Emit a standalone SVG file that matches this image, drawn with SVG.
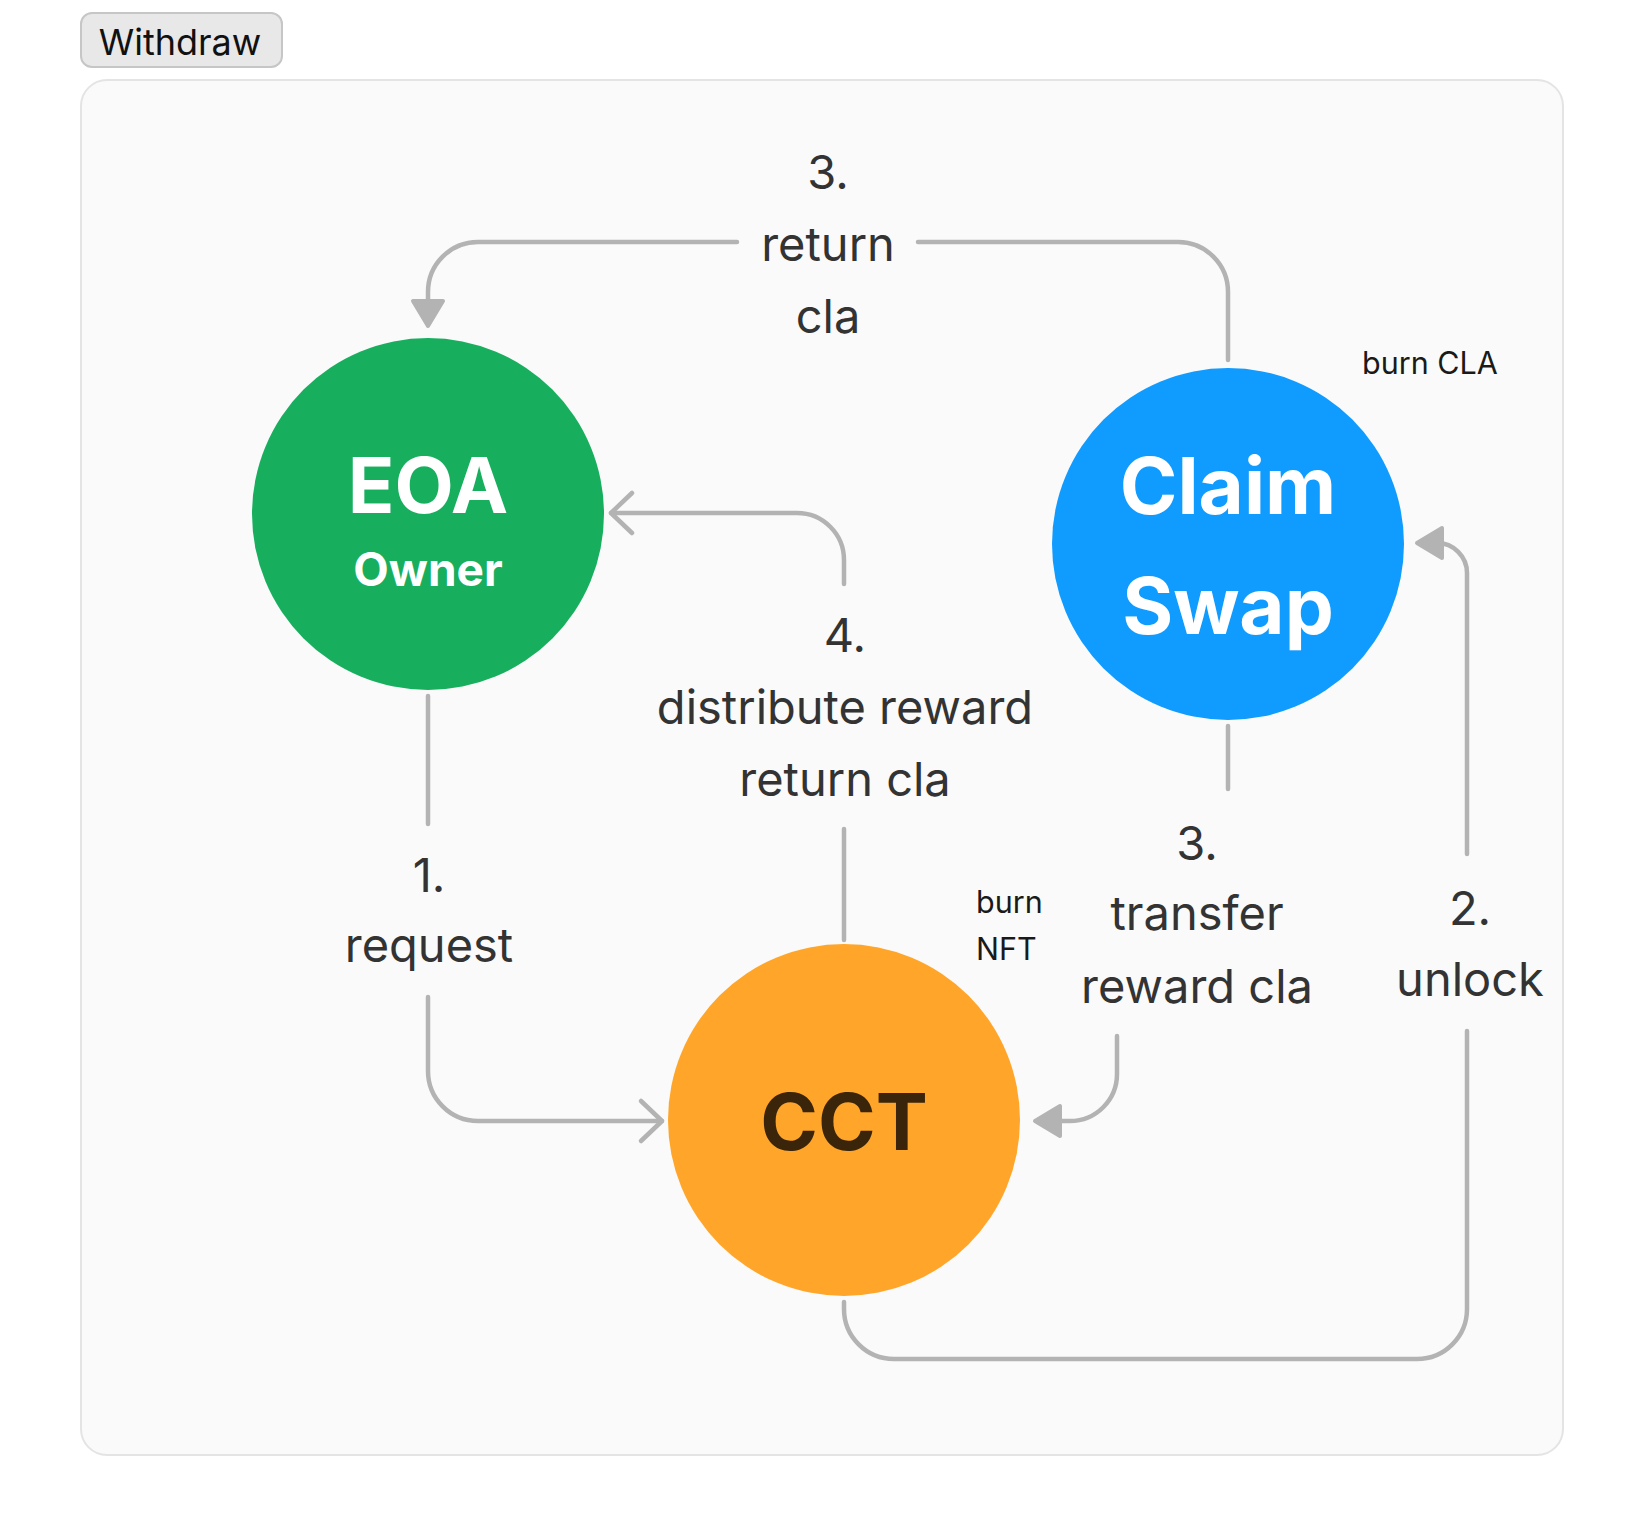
<svg xmlns="http://www.w3.org/2000/svg" width="1646" height="1536" viewBox="0 0 1646 1536">
<defs>
<style>
.lbl{font-family:Inter,"Liberation Sans",sans-serif;font-size:47px;fill:#333333;text-anchor:middle}
.sm{font-family:Inter,"Liberation Sans",sans-serif;font-size:30.5px;fill:#1a1a1a}
.node{font-family:Inter,"Liberation Sans",sans-serif;font-weight:700;text-anchor:middle}
.con{fill:none;stroke:#b3b3b3;stroke-width:4.5;stroke-linecap:round;stroke-linejoin:round}
.tri{fill:#b3b3b3;stroke:#b3b3b3;stroke-width:4;stroke-linejoin:round}
</style>
</defs>
<rect width="1646" height="1536" fill="#ffffff"/>
<g id="frame">
<rect x="81" y="80" width="1482" height="1375" rx="26" fill="#fafafa" stroke="#e4e4e4" stroke-width="2"/>
</g>
<g id="button">
<rect x="81" y="13" width="201" height="54" rx="11" fill="#e8e8e8" stroke="#c6c6c6" stroke-width="2"/>
<text x="180" y="55" font-family="Inter,'Liberation Sans',sans-serif" font-size="36" fill="#111111" text-anchor="middle">Withdraw</text>
</g>
<g id="connectors">
<path class="con" d="M1228 360 L1228 292 A50 50 0 0 0 1178 242 L918 242"/>
<path class="con" d="M737 242 L478 242 A50 50 0 0 0 428 292 L428 300"/>
<polygon class="tri" points="413,301 443,301 428,326"/>
<path class="con" d="M844 940 L844 829"/>
<path class="con" d="M844 584 L844 560 A47 47 0 0 0 797 513 L611 513"/>
<path class="con" d="M632 493 L611 513 L632 533"/>
<path class="con" d="M428 696 L428 824"/>
<path class="con" d="M428 997 L428 1071 A50 50 0 0 0 478 1121 L662 1121"/>
<path class="con" d="M641 1101 L662 1121 L641 1141"/>
<path class="con" d="M1228 726 L1228 789"/>
<path class="con" d="M1117 1036 L1117 1074 A47 47 0 0 1 1070 1121 L1058 1121"/>
<polygon class="tri" points="1060,1106 1060,1136 1035,1121"/>
<path class="con" d="M844 1302 L844 1309 A50 50 0 0 0 894 1359 L1417 1359 A50 50 0 0 0 1467 1309 L1467 1031"/>
<path class="con" d="M1467 854 L1467 573 A30 30 0 0 0 1437 543 L1440 543"/>
<polygon class="tri" points="1442,528 1442,558 1417,543"/>
</g>
<g id="labels">
<text class="lbl" x="828" y="189">3.</text>
<text class="lbl" x="828" y="261">return</text>
<text class="lbl" x="828" y="333">cla</text>
<text class="lbl" x="845" y="652">4.</text>
<text class="lbl" x="845" y="724">distribute reward</text>
<text class="lbl" x="845" y="796">return cla</text>
<text class="lbl" x="429" y="892">1.</text>
<text class="lbl" x="429" y="962">request</text>
<text class="lbl" x="1197" y="860">3.</text>
<text class="lbl" x="1197" y="930">transfer</text>
<text class="lbl" x="1197" y="1003">reward cla</text>
<text class="lbl" x="1470" y="925">2.</text>
<text class="lbl" x="1470" y="996">unlock</text>
<text class="sm" x="1362" y="374">burn CLA</text>
<text class="sm" x="976" y="913">burn</text>
<text class="sm" x="976" y="960">NFT</text>
</g>
<g id="node-eoa">
<circle cx="428" cy="514" r="176" fill="#17af5e"/>
<text class="node" x="428" y="513" font-size="77" fill="#ffffff">EOA</text>
<text class="node" x="428" y="586" font-size="46" fill="#ffffff">Owner</text>
</g>
<g id="node-claimswap">
<circle cx="1228" cy="544" r="176" fill="#109bff"/>
<text class="node" x="1228" y="514" font-size="78" fill="#ffffff">Claim</text>
<text class="node" x="1228" y="634" font-size="78" fill="#ffffff">Swap</text>
</g>
<g id="node-cct">
<circle cx="844" cy="1120" r="176" fill="#ffa62a"/>
<text class="node" x="844" y="1150" font-size="78" fill="#3a250a">CCT</text>
</g>
</svg>
